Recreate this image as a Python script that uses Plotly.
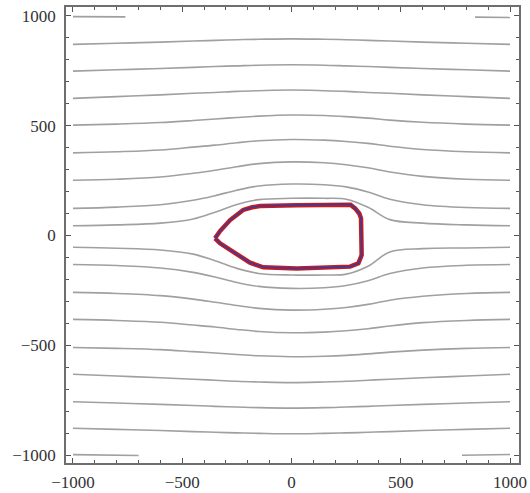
import plotly.graph_objects as go

grid_x = [-1000, -800, -600, -450, -350, -250, -150, 0, 150, 250, 350, 450, 600, 800, 1000]

# streamline heights (y) at grid_x
line_p870 = [870, 875, 880, 885, 888, 891, 893, 895, 893, 891, 888, 885, 880, 875, 870]
line_p748 = [748, 754, 760, 765, 769, 772, 775, 777, 775, 772, 769, 765, 760, 754, 748]
line_p624 = [624, 632, 640, 647, 651, 656, 659, 662, 659, 656, 651, 647, 640, 632, 624]
line_p502 = [502, 507, 514, 523, 530, 537, 543, 548, 546, 541, 534, 525, 515, 507, 502]
line_p376 = [376, 381, 389, 402, 411, 422, 431, 437, 434, 428, 419, 406, 391, 381, 376]
line_p251 = [251, 256, 266, 283, 297, 313, 327, 335, 331, 322, 308, 289, 269, 256, 251]
line_p123 = [123, 129, 140, 160, 181, 206, 225, 234, 231, 221, 198, 165, 140, 127, 123]
line_p44 = [44, 48, 56, 75, 106, 141, 163, 169, 169, 165, 128, 72, 56, 48, 44]
line_m54 = [-54, -58, -66, -85, -115, -150, -173, -180, -180, -176, -140, -75, -60, -57, -54]
line_m132 = [-132, -137, -148, -168, -189, -214, -232, -241, -238, -228, -206, -173, -148, -136, -132]
line_m259 = [-259, -264, -274, -290, -304, -319, -332, -340, -336, -328, -314, -295, -277, -264, -259]
line_m382 = [-382, -387, -395, -408, -417, -428, -437, -443, -440, -434, -425, -412, -397, -387, -382]
line_m510 = [-510, -514, -520, -529, -535, -542, -548, -552, -550, -546, -539, -531, -522, -514, -510]
line_m632 = [-632, -640, -648, -655, -659, -664, -667, -670, -667, -664, -659, -655, -648, -640, -632]
line_m757 = [-757, -763, -769, -774, -778, -781, -784, -786, -784, -781, -778, -774, -769, -763, -757]
line_m878 = [-878, -883, -888, -893, -896, -899, -901, -903, -901, -899, -896, -893, -888, -883, -878]

# short streamline pieces along the top and bottom edges
top_left_x = [-1000, -760]
top_left_y = [996, 995]
top_right_x = [840, 1000]
top_right_y = [994, 992]
bot_left_x = [-1000, -700]
bot_left_y = [-998, -1002]
bot_right_x = [780, 1000]
bot_right_y = [-1001, -997]

# body outline
body_x = [-350, -327, -281, -221, -180, -144, 24, 237, 270, 291, 310, 318, 321, 321, 306, 268, 24,
          -129, -190, -266, -327, -350]
body_y = [-13, 20, 70, 116, 128, 134, 138, 143, 140, 123, 100, 78, -13, -89, -127, -142, -150,
          -145, -124, -74, -36, -13]

tick_vals = [-1000, -500, 0, 500, 1000]
tick_text = ["\u22121000", "\u2212500", "0", "500", "1000"]

stream_color = "#a0a0a0"

fig = go.Figure()

full_lines = [line_p870, line_p748, line_p624, line_p502, line_p376, line_p251, line_p123, line_p44,
              line_m54, line_m132, line_m259, line_m382, line_m510, line_m632, line_m757, line_m878]
for ys in full_lines:
    fig.add_trace(go.Scatter(x=grid_x, y=ys, mode="lines",
                             line=dict(color=stream_color, width=1.6, shape="spline"),
                             hoverinfo="skip", showlegend=False))

for xs, ys in [(top_left_x, top_left_y), (top_right_x, top_right_y),
               (bot_left_x, bot_left_y), (bot_right_x, bot_right_y)]:
    fig.add_trace(go.Scatter(x=xs, y=ys, mode="lines",
                             line=dict(color=stream_color, width=1.6),
                             hoverinfo="skip", showlegend=False))

fig.add_trace(go.Scatter(x=body_x, y=body_y, mode="lines",
                         line=dict(color="#cc1a1a", width=4.5),
                         hoverinfo="skip", showlegend=False))
fig.add_trace(go.Scatter(x=body_x, y=body_y, mode="lines",
                         line=dict(color="#3b3b9e", width=1.6),
                         hoverinfo="skip", showlegend=False))

axis_common = dict(
    showline=True, linecolor="#6e6e6e", linewidth=1.5, mirror="allticks",
    showgrid=False, zeroline=False, automargin=False,
    ticks="inside", ticklen=5, tickwidth=1, tickcolor="#555555",
    tickvals=tick_vals, ticktext=tick_text,
    minor=dict(ticks="inside", ticklen=3, tickwidth=1, tickcolor="#555555", dtick=100, tick0=0,
               showgrid=False),
    tickfont=dict(family="Liberation Serif", size=17, color="#333333"),
)

fig.update_xaxes(range=[-1032, 1041], ticklabelstandoff=3, **axis_common)
fig.update_yaxes(range=[-1036, 1040], ticklabelstandoff=5, **axis_common)

fig.update_layout(
    width=530, height=493,
    margin=dict(l=66, r=11, t=7, b=30),
    paper_bgcolor="white", plot_bgcolor="white",
    showlegend=False,
)

fig.write_html("out.html", config={"displayModeBar": False},
               post_script="document.body.style.margin='0';")
